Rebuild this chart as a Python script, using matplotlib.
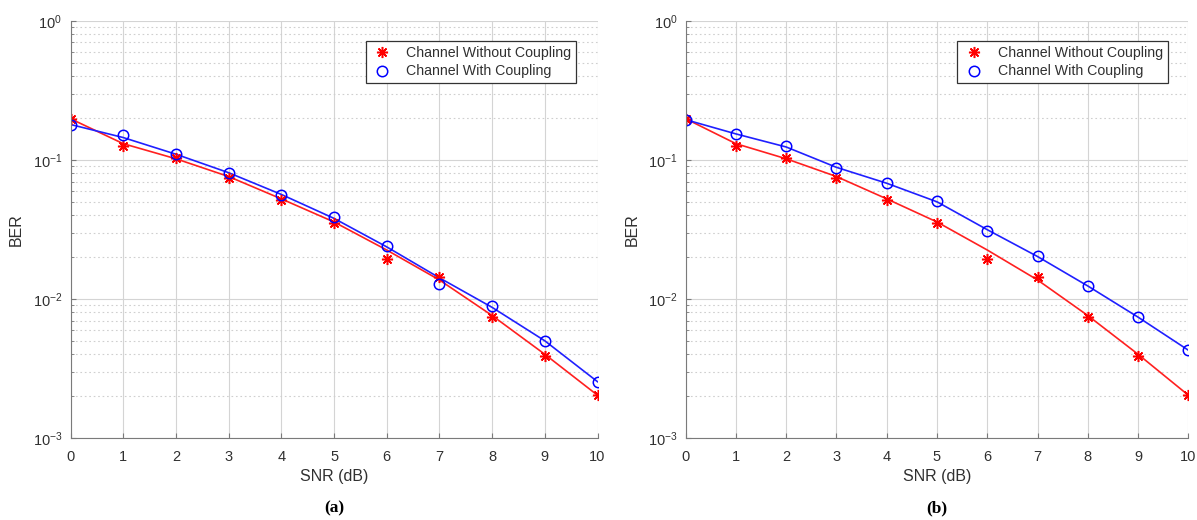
import numpy as np
import matplotlib.pyplot as plt
from matplotlib.ticker import LogLocator, NullFormatter, FuncFormatter

plt.rcParams['font.family'] = ['Liberation Sans', 'DejaVu Sans']
plt.rcParams['mathtext.fontset'] = 'custom'
plt.rcParams['mathtext.rm'] = 'Liberation Sans'
plt.rcParams['mathtext.it'] = 'Liberation Sans'
plt.rcParams['axes.unicode_minus'] = False

snr = [0, 1, 2, 3, 4, 5, 6, 7, 8, 9, 10]

# simulated points (markers)
ber_nocoup = [0.196, 0.125, 0.104, 0.0746, 0.0515, 0.035, 0.0193, 0.0145, 0.00738, 0.00388, 0.00203]
ber_coup_a = [0.179, 0.150, 0.110, 0.0806, 0.056, 0.0388, 0.024, 0.0128, 0.00885, 0.00501, 0.00254]
ber_coup_b = [0.195, 0.154, 0.126, 0.0876, 0.0687, 0.0505, 0.031, 0.0204, 0.0124, 0.00738, 0.00428]

# fitted curves (lines)
fit_nocoup = [0.198, 0.131, 0.102, 0.076, 0.0525, 0.0358, 0.0225, 0.0137, 0.0076, 0.0040, 0.00203]
fit_coup_a = [0.180, 0.145, 0.110, 0.081, 0.0565, 0.038, 0.0237, 0.0142, 0.0087, 0.0050, 0.00254]
fit_coup_b = [0.195, 0.154, 0.124, 0.0885, 0.068, 0.050, 0.0315, 0.0202, 0.0124, 0.0074, 0.00428]

panels = [("(a)", ber_coup_a, fit_coup_a), ("(b)", ber_coup_b, fit_coup_b)]
axes_pos = [[0.0589, 0.1577, 0.4403, 0.802], [0.5728, 0.1577, 0.4200, 0.802]]


def pow10(v, _):
    return r'$\mathregular{10^{%d}}$' % int(round(np.log10(v)))


fig = plt.figure(figsize=(11.97, 5.2), dpi=100)
txt = '#303030'
for (tag, coup, fitc), pos in zip(panels, axes_pos):
    ax = fig.add_axes(pos)
    ax.plot(snr, fit_nocoup, color='#ff2020', lw=1.2)
    ax.plot(snr, fitc, color='#2020ff', lw=1.2)
    ax.plot(snr, ber_nocoup, ls='none', marker=(8, 2, 0), ms=8, mew=1.1, color='red',
            label='Channel Without Coupling')
    ax.plot(snr, coup, ls='none', marker='o', ms=7.5, mew=1.1, mfc='none', mec='blue',
            label='Channel With Coupling')
    ax.set_yscale('log')
    ax.set_xlim(0, 10)
    ax.set_ylim(1e-3, 1)
    ax.set_xticks(snr)
    ax.yaxis.set_major_locator(LogLocator(base=10, numticks=5))
    ax.yaxis.set_major_formatter(FuncFormatter(pow10))
    ax.yaxis.set_minor_locator(LogLocator(base=10, subs=np.arange(2, 10), numticks=10))
    ax.yaxis.set_minor_formatter(NullFormatter())
    ax.grid(True, which='major', color='#d4d4d4', lw=0.8, ls='-')
    ax.grid(True, which='minor', axis='y', color='#cfcfcf', lw=0.8, ls=(0, (1.5, 2.5)))
    ax.set_axisbelow(True)
    for side in ['top', 'right']:
        ax.spines[side].set_visible(False)
    for side in ['left', 'bottom']:
        ax.spines[side].set_color('#7a7a7a')
    ax.tick_params(which='both', direction='in', colors='#7a7a7a', labelcolor=txt, labelsize=10.5)
    ax.tick_params(axis='x', pad=9)
    ax.tick_params(axis='y', pad=6)
    ax.tick_params(which='minor', length=2)
    ax.set_xlabel('SNR (dB)', fontsize=11.5, color=txt, labelpad=3)
    ax.set_ylabel('BER', fontsize=11.5, color=txt, labelpad=6)
    leg = ax.legend(loc='upper right', bbox_to_anchor=(0.973, 0.97), fontsize=10.2,
                    fancybox=False, framealpha=1, edgecolor='#333333', borderpad=0.35,
                    handletextpad=0.9, labelspacing=0.35, handlelength=1.6)
    leg.get_frame().set_linewidth(0.9)
    for t in leg.get_texts():
        t.set_color(txt)
    x0 = pos[0] + pos[2] / 2
    fig.text(x0, 0.023, tag, ha='center', va='center', fontsize=12.5, fontweight='bold',
             family=['Liberation Serif', 'DejaVu Serif'])

fig.savefig('out.png', dpi=100)
